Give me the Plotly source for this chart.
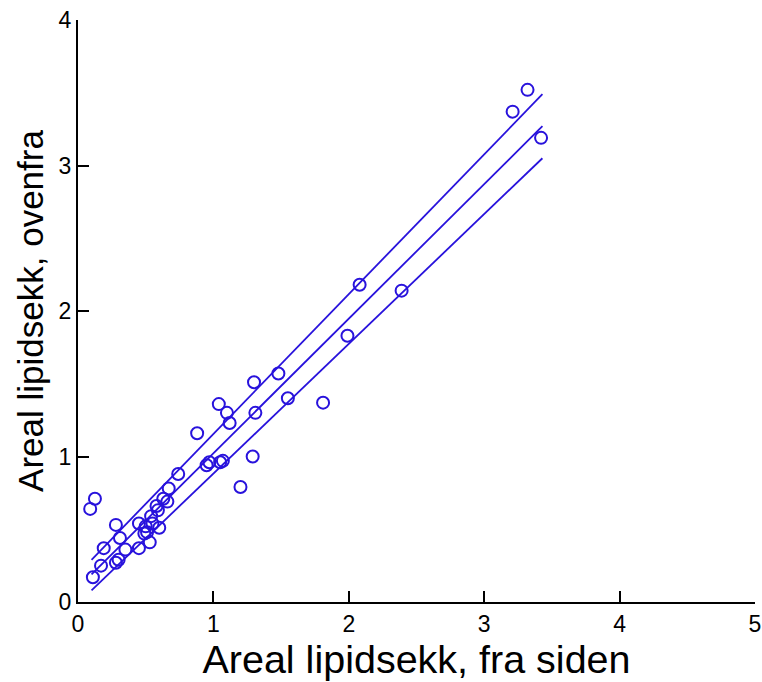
import plotly.graph_objects as go

# Measured points (x: fra siden, y: ovenfra)
x_side = [3.32, 3.21, 3.42, 2.08, 2.39, 1.99, 1.48, 1.30, 1.55, 1.81,
          1.04, 1.10, 1.31, 1.12, 0.88, 1.29, 0.95, 0.97, 1.05, 1.07,
          0.74, 1.20, 0.67, 0.63, 0.66, 0.125, 0.09, 0.58, 0.59, 0.54,
          0.55, 0.60, 0.45, 0.50, 0.51, 0.49, 0.28, 0.31, 0.53, 0.35,
          0.45, 0.19, 0.30, 0.28, 0.17, 0.11]
y_top = [3.52, 3.37, 3.19, 2.18, 2.14, 1.83, 1.57, 1.51, 1.40, 1.37,
         1.36, 1.30, 1.30, 1.23, 1.16, 1.00, 0.94, 0.96, 0.96, 0.97,
         0.88, 0.79, 0.78, 0.71, 0.69, 0.71, 0.64, 0.66, 0.63, 0.59,
         0.54, 0.51, 0.54, 0.52, 0.48, 0.47, 0.53, 0.44, 0.41, 0.36,
         0.37, 0.37, 0.29, 0.27, 0.25, 0.17]

# Fitted line and bounds (endpoints)
line_x = [0.10, 3.43]
line_upper = [0.29, 3.49]
line_mid = [0.19, 3.27]
line_lower = [0.08, 3.05]

x_ticks = [0, 1, 2, 3, 4, 5]
y_ticks = [0, 1, 2, 3, 4]

blue = "#2812DC"
fig = go.Figure()
for ly in (line_upper, line_mid, line_lower):
    fig.add_trace(go.Scatter(x=line_x, y=ly, mode="lines",
                             line=dict(color=blue, width=1.8),
                             showlegend=False, hoverinfo="skip"))
fig.add_trace(go.Scatter(x=x_side, y=y_top, mode="markers",
                         marker=dict(symbol="circle-open", size=12,
                                     color=blue, line=dict(width=2, color=blue)),
                         showlegend=False))

font_fam = "Liberation Sans, Arial, sans-serif"
fig.update_layout(
    width=762, height=682,
    margin=dict(l=78, r=7, t=20, b=80),
    paper_bgcolor="white", plot_bgcolor="white",
    font=dict(family=font_fam, color="black"),
    xaxis=dict(range=[0, 5], tickvals=x_ticks, ticktext=[str(v) for v in x_ticks],
               ticks="inside", ticklen=11, tickwidth=1.5, tickcolor="black",
               showline=True, linecolor="black", linewidth=2,
               showgrid=False, zeroline=False, automargin=False,
               tickfont=dict(size=23, family=font_fam),
               title=dict(text="Areal lipidsekk, fra siden",
                          font=dict(size=39.5, family=font_fam), standoff=8)),
    yaxis=dict(range=[0, 4], tickvals=y_ticks, ticktext=[str(v) for v in y_ticks],
               ticks="inside", ticklen=11, tickwidth=1.5, tickcolor="black",
               showline=True, linecolor="black", linewidth=2,
               showgrid=False, zeroline=False, automargin=False,
               tickfont=dict(size=23, family=font_fam),
               title=dict(text="Areal lipidsekk, ovenfra",
                          font=dict(size=35, family=font_fam), standoff=4)),
)
fig.write_html("out.html")
